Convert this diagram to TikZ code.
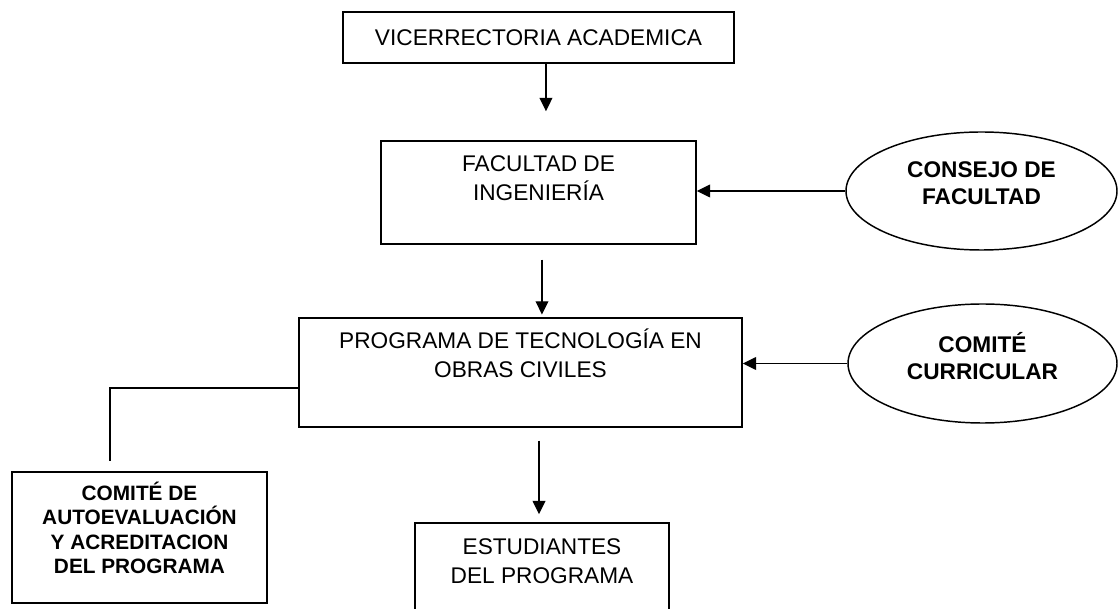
\documentclass[tikz,border=0pt]{standalone}
\usepackage{fontspec}
\setmainfont{Liberation Sans}
\usetikzlibrary{arrows.meta,shapes.geometric}

\tikzset{
  caja/.style={draw, line width=1.1pt, inner sep=0pt, font=\fontsize{17}{21.75}\selectfont},
  elipse/.style={draw, ellipse, line width=1.1pt, inner sep=0pt, align=center,
    font=\bfseries\fontsize{17}{20.25}\selectfont},
  flecha/.style={line width=1.1pt, -{Triangle[length=10pt,width=9.5pt]}},
  linea/.style={line width=1.1pt}
}
% texto arriba dentro de la caja: ancho, alto, linea base, texto
\newcommand{\textocaja}[4]{\parbox[c][#2][t]{#1}{\centering\rule{0pt}{#3}#4}}
\newcommand{\bajo}{\rule[-11.25pt]{0pt}{0pt}}

\begin{document}
\begin{tikzpicture}[x=0.75pt,y=-0.75pt]
  \clip (0,0) rectangle (1118,609);

  %Shape: Rectangle [vicerrectoria]
  \node[caja, minimum width=293.25pt, minimum height=38.25pt] (vice) at (538.5,37.5) {VICERRECTORIA ACADEMICA};
  %Shape: Rectangle [facultad]
  \node[caja] (fac) at (538.5,192.5) {\textocaja{236.25pt}{77.25pt}{23.25pt}{FACULTAD DE\\INGENIERÍA}};
  %Shape: Rectangle [programa]
  \node[caja] (prog) at (520.5,372.5) {\textocaja{332.25pt}{81.75pt}{23.25pt}{PROGRAMA DE TECNOLOGÍA EN\\OBRAS CIVILES}};
  %Shape: Rectangle [autoevaluacion]
  \node[caja, font=\bfseries\fontsize{15.6}{18.5}\selectfont] (aut) at (139.5,537.5)
    {\textocaja{191.25pt}{98.25pt}{21pt}{COMITÉ DE\\AUTOEVALUACIÓN\\Y ACREDITACION\\DEL PROGRAMA}};
  %Shape: Rectangle [estudiantes]
  \node[caja] (est) at (542,574.5) {\textocaja{190.5pt}{77.25pt}{23.25pt}{ESTUDIANTES\\DEL PROGRAMA}};

  %Shape: Ellipse [consejo]
  \node[elipse, minimum width=203.25pt, minimum height=88.5pt] (cons) at (981.5,191) {CONSEJO DE\\FACULTAD\bajo};
  %Shape: Ellipse [comite curricular]
  \node[elipse, minimum width=201.75pt, minimum height=89.25pt] (curr) at (982.5,363.5) {COMITÉ\\CURRICULAR\bajo};

  %Straight Lines
  \draw[flecha, shorten >=21.75pt] ([xshift=5.6pt]vice.south) -- ([xshift=5.6pt]fac.north);
  \draw[flecha, shorten <=11.25pt, shorten >=2pt] ([xshift=2.6pt]fac.south) -- ([xshift=2.6pt]fac.south |- prog.north);
  \draw[flecha, shorten <=9.75pt, shorten >=6pt] ([xshift=-2.25pt]est.north |- prog.south) -- ([xshift=-2.25pt]est.north);
  \draw[flecha] (cons.west) -- (cons.west -| fac.east);
  \draw[flecha] (curr.west) -- (curr.west -| prog.east);
  \draw[linea, shorten >=7.5pt] ([yshift=-11.6pt]prog.west) -| ([xshift=-22.1pt]aut.north);
\end{tikzpicture}
\end{document}
